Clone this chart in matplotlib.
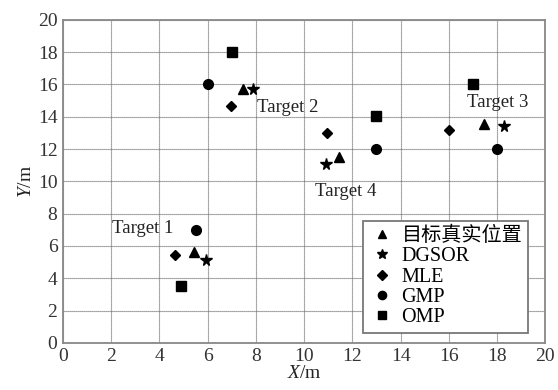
import matplotlib
matplotlib.use("Agg")
import matplotlib.pyplot as plt

plt.rcParams['font.family'] = ['Liberation Serif', 'Noto Sans CJK SC']
plt.rcParams['mathtext.fontset'] = 'custom'
plt.rcParams['mathtext.it'] = 'Liberation Serif:italic'
plt.rcParams['mathtext.rm'] = 'Liberation Serif'

true_x = [5.45, 7.45, 17.45, 11.45]
true_y = [5.6, 15.7, 13.55, 11.5]
dgsor_x = [5.95, 7.9, 18.3, 10.9]
dgsor_y = [5.1, 15.75, 13.4, 11.1]
mle_x = [4.65, 6.95, 16.0, 10.95]
mle_y = [5.45, 14.65, 13.2, 13.0]
gmp_x = [5.5, 6.0, 18.0, 13.0]
gmp_y = [7.0, 16.0, 12.0, 12.0]
omp_x = [4.9, 7.0, 17.0, 13.0]
omp_y = [3.5, 18.0, 16.0, 14.05]

labels = ['Target 1', 'Target 2', 'Target 3', 'Target 4']
label_x = [2.05, 8.05, 16.75, 10.45]
label_y = [7.1, 14.6, 14.9, 9.35]

fig = plt.figure(figsize=(5.58, 3.9), dpi=100)
ax = fig.add_axes([0.113, 0.121, 0.864, 0.828])

ms = 6.5
ax.plot(true_x, true_y, '^', color='black', ms=ms, label='目标真实位置', zorder=3)
ax.plot(dgsor_x, dgsor_y, '*', color='black', ms=ms+2, label='DGSOR', zorder=3)
ax.plot(mle_x, mle_y, 'D', color='black', ms=ms-1, label='MLE', zorder=3)
ax.plot(gmp_x, gmp_y, 'o', color='black', ms=ms+0.5, label='GMP', zorder=3)
ax.plot(omp_x, omp_y, 's', color='black', ms=ms, label='OMP', zorder=3)

for t, x, y in zip(labels, label_x, label_y):
    ax.text(x, y, t, fontsize=13.5, color='#222222', va='center',
            family=['Liberation Serif'])

ax.set_xlim(0, 20)
ax.set_ylim(0, 20)
ax.set_xticks(range(0, 21, 2))
ax.set_yticks(range(0, 21, 2))
ax.grid(True, linestyle=(0, (1, 0.8)), color='#666666', linewidth=0.8)
ax.set_axisbelow(True)
for s in ax.spines.values():
    s.set_color('#888888')
    s.set_linewidth(1.3)
ax.tick_params(axis='both', length=0, labelsize=14, pad=4, colors='#333333')
ax.set_xlabel('$X$/m', fontsize=14, labelpad=0, color='#222222')
ax.set_ylabel('$Y$/m', fontsize=14, labelpad=2, color='#222222')

leg = ax.legend(loc='lower right', fontsize=14.5, handletextpad=0.3, handlelength=1.3,
                borderpad=0.3, labelspacing=0.05, fancybox=False, framealpha=1,
                edgecolor='#777777', bbox_to_anchor=(0.965, 0.031), borderaxespad=0,
                markerscale=0.85)
leg.get_frame().set_linewidth(1.3)

fig.savefig('out.png', dpi=100)
